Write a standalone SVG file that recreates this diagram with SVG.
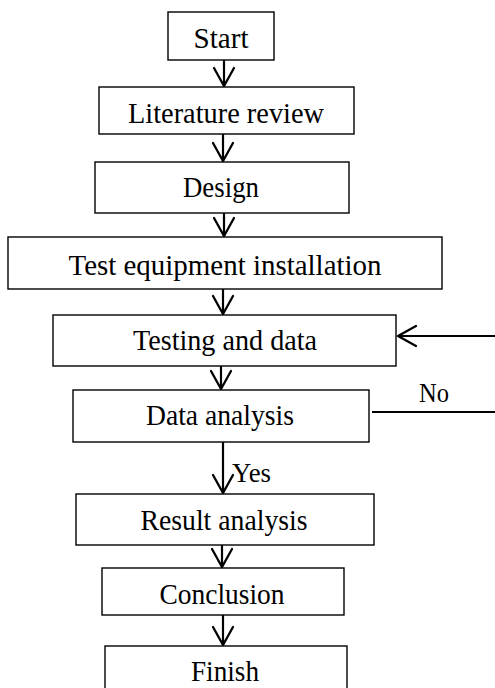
<svg xmlns="http://www.w3.org/2000/svg" width="495" height="688" viewBox="0 0 495 688">
<defs>
<style>
.box{fill:#fff;stroke:#000;stroke-width:1.4}
.lbl{font-family:"Liberation Serif","Times New Roman",serif;font-size:29px;fill:#000;text-anchor:middle}
.sm{font-family:"Liberation Serif","Times New Roman",serif;font-size:27px;fill:#000}
.con{stroke:#000;stroke-width:2.2;fill:none}
</style>
<marker id="arr" markerUnits="userSpaceOnUse" markerWidth="24" markerHeight="24" viewBox="-20 -12 22 24" refX="0" refY="0" orient="auto">
<path d="M-18,-10 L0,0 L-18,10" fill="none" stroke="#000" stroke-width="2.3" stroke-linejoin="round" stroke-linecap="round"/>
</marker>
</defs>
<rect width="495" height="688" fill="#fff"/>
<g id="connectors">
<line class="con" x1="224" y1="60" x2="224" y2="86" marker-end="url(#arr)"/>
<line class="con" x1="223" y1="134" x2="223" y2="161" marker-end="url(#arr)"/>
<line class="con" x1="224" y1="213" x2="224" y2="236" marker-end="url(#arr)"/>
<line class="con" x1="223" y1="289" x2="223" y2="314" marker-end="url(#arr)"/>
<line class="con" x1="221" y1="366" x2="221" y2="389" marker-end="url(#arr)"/>
<line class="con" x1="223" y1="442" x2="223" y2="493" marker-end="url(#arr)"/>
<line class="con" x1="222" y1="545" x2="222" y2="567" marker-end="url(#arr)"/>
<line class="con" x1="223" y1="615" x2="223" y2="645" marker-end="url(#arr)"/>
<line class="con" x1="495" y1="336" x2="398" y2="336" marker-end="url(#arr)"/>
<line class="con" x1="372" y1="412" x2="495" y2="412"/>
<text class="sm" x="419" y="402" textLength="30" lengthAdjust="spacingAndGlyphs">No</text>
<text class="sm" x="232" y="482" textLength="39" lengthAdjust="spacingAndGlyphs">Yes</text>
</g>
<g id="start">
<rect class="box" x="168" y="12" width="106" height="48"/>
<text class="lbl" x="221" y="48" textLength="55" lengthAdjust="spacingAndGlyphs">Start</text>
</g>
<g id="literature">
<rect class="box" x="99" y="87" width="255" height="47"/>
<text class="lbl" x="226" y="123" textLength="196" lengthAdjust="spacingAndGlyphs">Literature review</text>
</g>
<g id="design">
<rect class="box" x="95" y="162" width="254" height="51"/>
<text class="lbl" x="221" y="197" textLength="76" lengthAdjust="spacingAndGlyphs">Design</text>
</g>
<g id="installation">
<rect class="box" x="8" y="237" width="434" height="52"/>
<text class="lbl" x="225" y="275" textLength="313" lengthAdjust="spacingAndGlyphs">Test equipment installation</text>
</g>
<g id="testing">
<rect class="box" x="53" y="315" width="343" height="51"/>
<text class="lbl" x="225" y="350" textLength="184" lengthAdjust="spacingAndGlyphs">Testing and data</text>
</g>
<g id="data-analysis">
<rect class="box" x="73" y="390" width="296" height="52"/>
<text class="lbl" x="220" y="425" textLength="148" lengthAdjust="spacingAndGlyphs">Data analysis</text>
</g>
<g id="result-analysis">
<rect class="box" x="76" y="494" width="298" height="51"/>
<text class="lbl" x="224" y="530" textLength="167" lengthAdjust="spacingAndGlyphs">Result analysis</text>
</g>
<g id="conclusion">
<rect class="box" x="102" y="568" width="242" height="47"/>
<text class="lbl" x="222" y="604" textLength="125" lengthAdjust="spacingAndGlyphs">Conclusion</text>
</g>
<g id="finish">
<rect class="box" x="105" y="646" width="242" height="52"/>
<text class="lbl" x="225" y="681" textLength="68" lengthAdjust="spacingAndGlyphs">Finish</text>
</g>
</svg>
